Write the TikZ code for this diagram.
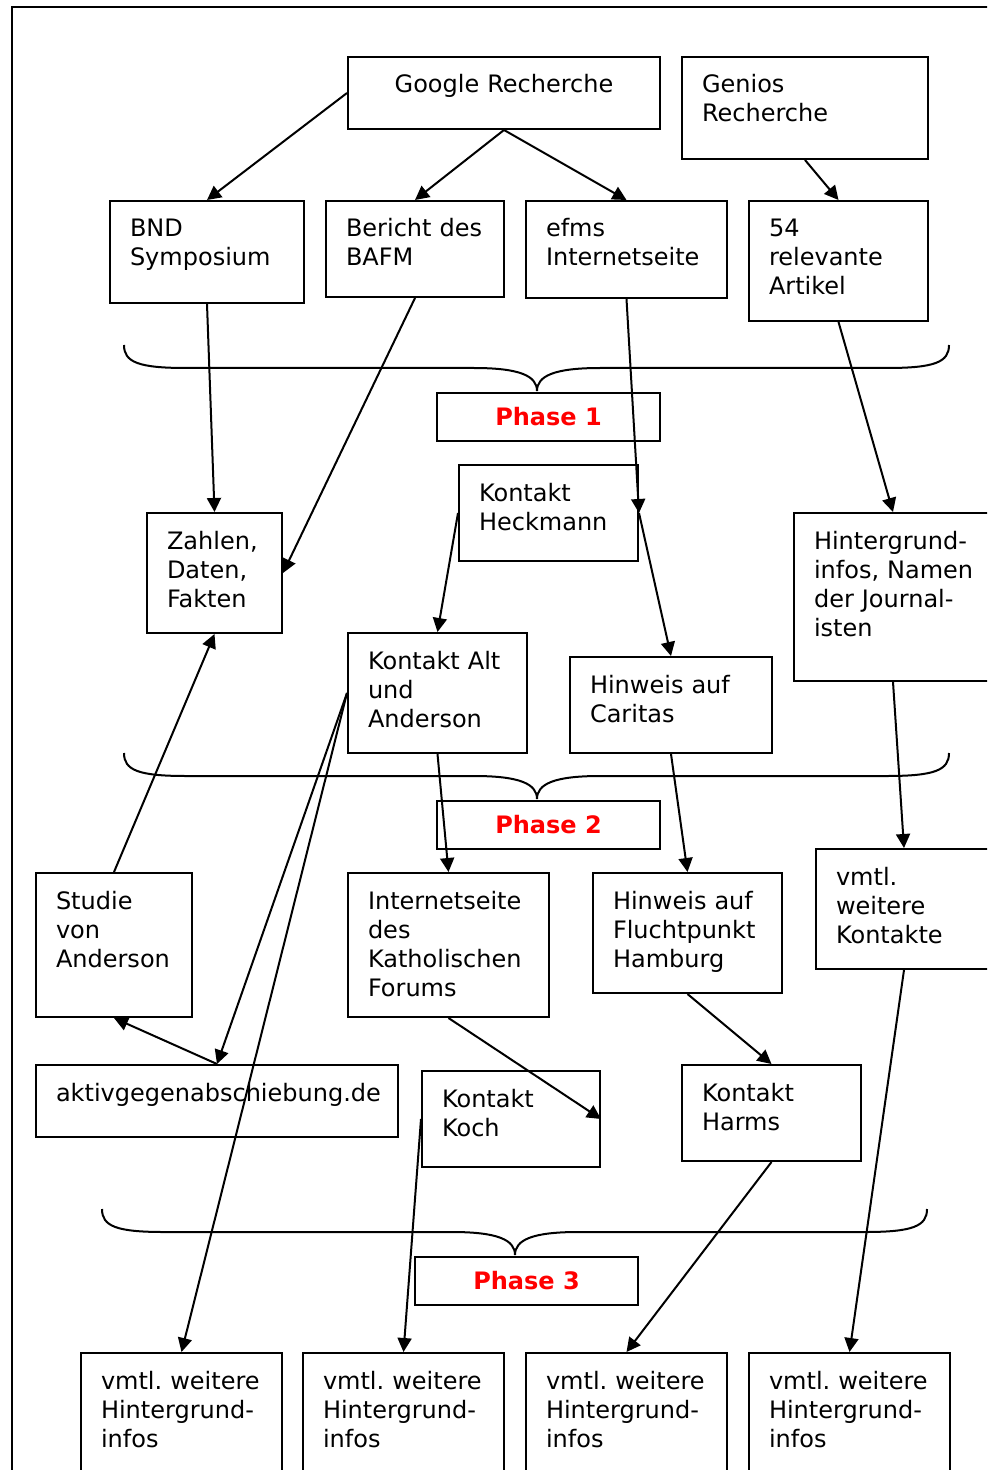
\documentclass[tikz,border=0pt]{standalone}
\usepackage{fontspec}
\setmainfont{DejaVu Sans}
\usetikzlibrary{arrows.meta}
\definecolor{phasered}{HTML}{FF0000}
\frenchspacing

\begin{document}
\begin{tikzpicture}[
    x=0.5pt, y=-0.5pt,
    box/.style={rectangle, draw, line width=1pt, anchor=north west, align=left,
                inner xsep=10pt, inner ysep=4pt, text height=14pt,
                font=\fontsize{12}{14.5}\selectfont},
    phase/.style={rectangle, draw, line width=1pt, anchor=north west, inner sep=0pt,
                  minimum width=111.5pt, minimum height=24pt,
                  text=phasered, font=\fontsize{12}{14.5}\selectfont\bfseries},
    flow/.style={-{Triangle[length=7pt, width=7pt]}, line width=1pt},
    brace/.style={line width=1pt}
  ]
    \useasboundingbox (0,0) rectangle (987,1470);
    \clip (0,0) rectangle (987,1470);
    \draw[line width=1pt] (12,7) rectangle (1000,1490);

    \node[box, align=center, text width=136pt, text depth=14pt] (google) at (347,56) {Google Recherche};
    \node[box, text width=103pt, text depth=29pt] (genios) at (681,56) {Genios\\Recherche};
    \node[box, text width=77pt, text depth=29pt] (bnd) at (109,200) {BND\\Symposium};
    \node[box, text width=69pt, text depth=26pt] (bafm) at (325,200) {\mbox{Bericht des}\\BAFM};
    \node[box, text width=80.5pt, text depth=26.5pt] (efms) at (525,200) {efms\\Internetseite};
    \node[box, text width=69.5pt, text depth=38pt] (artikel) at (748,200) {54\\relevante\\Artikel};

    \node[box, text width=69.5pt, text depth=26pt] (heckmann) at (458,464) {Kontakt\\Heckmann};
    \node[box, text width=47.5pt, text depth=38pt] (zahlen) at (146,512) {Zahlen,\\Daten,\\Fakten};
    \node[box, text width=79pt, text depth=62pt] (hintergrund) at (793,512) {Hintergrund-\\\mbox{infos, Namen}\\\mbox{der Journal-}\\isten};
    \node[box, text width=69.5pt, text depth=38pt] (alt) at (347,632) {\mbox{Kontakt Alt}\\und\\Anderson};
    \node[box, text width=81pt, text depth=26pt] (caritas) at (569,656) {\mbox{Hinweis auf}\\Caritas};

    \node[box, text width=58pt, text depth=50pt] (studie) at (35,872) {Studie\\von\\Anderson};
    \node[box, text width=80.5pt, text depth=50pt] (forum) at (347,872) {Internetseite\\des\\Katholischen\\Forums};
    \node[box, text width=74.5pt, text depth=38pt] (flucht) at (592,872) {\mbox{Hinweis auf}\\Fluchtpunkt\\Hamburg};
    \node[box, text width=68pt, text depth=38pt] (kontakte) at (815,848) {vmtl.\\weitere\\Kontakte};
    \node[box, text width=161pt, text depth=14pt] (aktiv) at (35,1064) {aktivgegenabschiebung.de};
    \node[box, text width=69pt, text depth=26pt] (koch) at (421,1070) {Kontakt\\Koch};
    \node[box, text width=69.5pt, text depth=26pt] (harms) at (681,1064) {Kontakt\\Harms};

    \foreach \i/\x in {1/80, 2/302, 3/525, 4/748}
      \node[box, text width=80.5pt, text depth=42pt] (infos\i) at (\x,1352) {\mbox{vmtl. weitere}\\Hintergrund-\\infos};

    \node[phase] (phase1) at (436,392) {Phase 1};
    \node[phase] (phase2) at (436,800) {Phase 2};
    \node[phase] (phase3) at (414,1256) {Phase 3};

    \foreach \dx/\dy in {0/0, 0/408, -22/864}
      \draw[brace, shift={(\dx,\dy)}] (124,345) .. controls (124,362) and (138,368) .. (186,368)
        -- (474,368) .. controls (520,368) and (537,376) .. (537,391)
        .. controls (537,376) and (554,368) .. (600,368)
        -- (887,368) .. controls (935,368) and (949,362) .. (949,345);

    \draw[flow] (google.west) -- (bnd.north);
    \draw[flow] (google.south) -- (bafm.north);
    \draw[flow] (google.south) -- (efms.north);
    \draw[flow] (genios.south) -- (artikel.north);
    \draw[flow] (bnd.south) -- (zahlen.north);
    \draw[flow] (bafm.south) -- (zahlen.east);
    \draw[flow] (efms.south) -- (heckmann.east);
    \draw[flow] (heckmann.east) -- (caritas.north);
    \draw[flow] (artikel.south) -- (hintergrund.north);
    \draw[flow] (heckmann.west) -- (alt.north);
    \draw[flow] (hintergrund.south) -- (kontakte.north);
    \draw[flow] (studie.north) -- (zahlen.south);
    \draw[flow] (alt.south) -- (forum.north);
    \draw[flow] (caritas.south) -- (flucht.north);
    \draw[flow] (alt.west) -- (aktiv.north);
    \draw[flow] (alt.west) -- (infos1.north);
    \draw[flow] (aktiv.north) -- (studie.south);
    \draw[flow] (forum.south) -- (koch.east);
    \draw[flow] (flucht.south) -- (harms.north);
    \draw[flow] (koch.west) -- (infos2.north);
    \draw[flow] (harms.south) -- (infos3.north);
    \draw[flow] (kontakte.south) -- (infos4.north);
  \end{tikzpicture}
\end{document}
